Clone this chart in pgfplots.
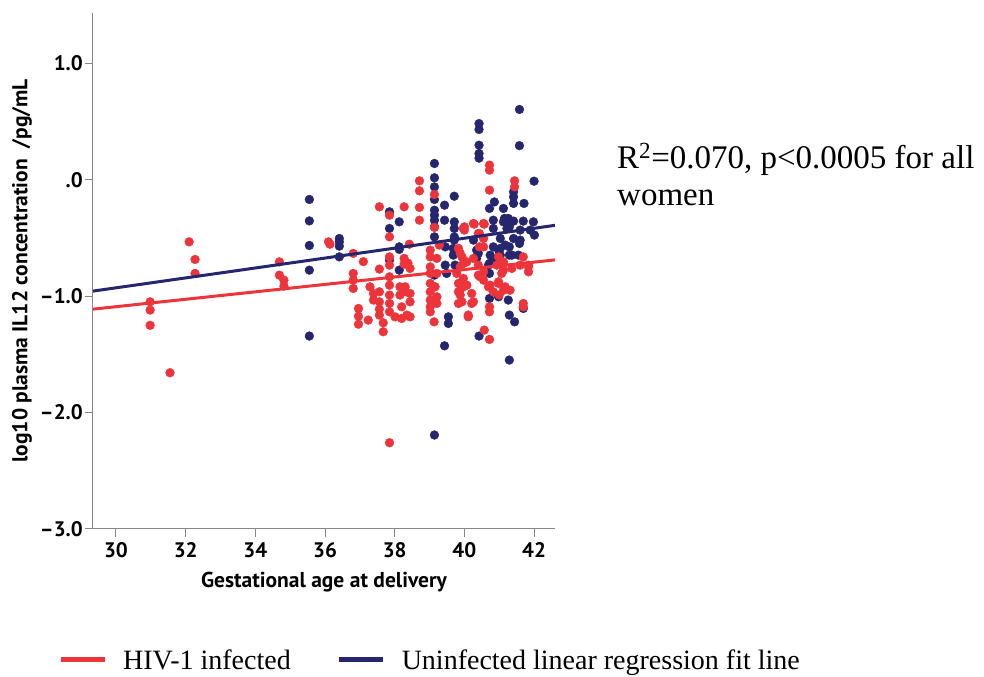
\documentclass[border=0pt]{standalone}
\usepackage{pgfplots}
\pgfplotsset{compat=1.18}
\usepackage{fontspec}
\setmainfont{Liberation Serif}
\newfontfamily\ptsans{PT Sans}
\definecolor{hivred}{RGB}{236,52,58}
\definecolor{uninfblue}{RGB}{38,38,110}
\definecolor{axgray}{RGB}{135,135,135}
\begin{document}
\begin{tikzpicture}
\begin{axis}[
  scale only axis, width=462pt, height=516.3pt,
  xmin=29.34, xmax=42.60, ymin=-3, ymax=1.434,
  clip mode=individual,
  axis lines=left, axis line style={axgray, line width=1pt, -},
  xtick={30,32,34,36,38,40,42}, xticklabels={30,32,34,36,38,40,42},
  ytick={-3,-2,-1,0,1}, yticklabels={–3.0,–2.0,–1.0,.0,1.0},
  tick align=outside, major tick length=8pt,
  tick style={axgray, line width=1pt},
  ticklabel style={font=\ptsans\bfseries\fontsize{21}{23}\selectfont, text=black, inner sep=2pt},
  xticklabel style={yshift=-3pt},
  xlabel={Gestational age at delivery},
  ylabel={log10 plasma IL12 concentration\ \ /pg/mL},
  label style={font=\ptsans\bfseries\fontsize{21.5}{23}\selectfont},
  xlabel style={at={(axis description cs:0.5,-0.1027)}, anchor=center},
  ylabel style={at={(axis description cs:-0.1537,0.5)}, anchor=center},
  legend columns=2,
  legend style={draw=none, fill=none, at={(axis description cs:-0.076,-0.2537)}, anchor=west,
    font=\fontsize{28}{30}\selectfont, inner sep=0pt,
    /tikz/every odd column/.append style={column sep=14pt},
    /tikz/every even column/.append style={column sep=44pt}},
  legend cell align=left,
  legend image code/.code={\draw[#1, line width=5pt] (0pt,0pt) -- (44pt,0pt);},
]
% uninfected (blue) points
\addplot[only marks, mark=*, mark size=4.4pt, color=uninfblue, forget plot] table {
x y
35.55 -0.170
35.55 -0.354
35.55 -0.565
35.55 -0.777
35.55 -1.343
36.41 -0.505
36.41 -0.534
36.41 -0.571
36.41 -0.663
37.85 -0.276
37.85 -0.419
38.13 -0.362
38.13 -0.577
38.13 -0.599
37.85 -0.691
38.13 -0.777
39.14 0.139
39.14 0.016
39.14 -0.062
39.14 -0.170
39.14 -0.262
39.14 -0.305
39.14 -0.348
39.14 -0.405
39.14 -0.491
39.14 -0.820
39.43 -0.219
39.43 -0.348
39.71 -0.142
39.71 -0.362
39.71 -0.419
39.71 -0.491
39.71 -0.519
39.45 -0.577
39.68 -0.590
39.68 -0.648
39.45 -0.734
39.73 -0.734
39.49 -0.805
39.54 -1.178
39.54 -1.235
39.43 -1.427
39.14 -2.193
41.58 0.603
40.42 0.482
40.42 0.431
40.42 0.296
40.42 0.225
40.42 0.185
41.58 0.292
40.72 -0.247
40.86 -0.191
41.12 -0.247
41.15 -0.333
41.29 -0.405
40.83 -0.348
40.83 -0.419
41.12 -0.362
41.26 -0.333
41.41 -0.356
41.69 -0.356
41.98 -0.362
41.22 -0.419
41.60 -0.433
41.89 -0.433
41.03 -0.505
41.41 -0.505
41.60 -0.519
40.26 -0.519
40.83 -0.577
41.03 -0.590
41.17 -0.562
41.29 -0.577
41.58 -0.548
40.40 -0.633
40.74 -0.648
40.83 -0.691
41.03 -0.648
41.36 -0.648
41.55 -0.648
40.69 -0.734
40.35 -0.605
40.35 -0.676
40.72 -0.719
40.72 -0.805
40.98 -0.605
41.29 -0.648
41.41 -0.105
41.41 -0.148
41.41 -0.204
41.71 -0.204
42.00 -0.013
42.01 -0.476
40.72 -1.020
40.98 -1.006
41.26 -1.034
41.29 -1.163
41.44 -1.221
41.29 -1.549
40.42 -1.343
41.69 -1.106
};
% HIV-1 infected (red) points
\addplot[only marks, mark=*, mark size=4.4pt, color=hivred, forget plot] table {
x y
30.98 -1.049
30.98 -1.120
30.98 -1.251
31.55 -1.658
32.10 -0.534
32.27 -0.685
32.27 -0.805
34.69 -0.706
34.69 -0.820
34.82 -0.863
34.82 -0.914
36.10 -0.534
36.14 -0.554
37.56 -0.233
37.85 -0.305
37.85 -0.491
38.27 -0.233
38.42 -0.554
38.71 -0.010
38.71 -0.096
38.71 -0.238
38.71 -0.348
39.14 -0.127
39.14 -0.410
39.28 -0.562
40.00 -0.405
40.00 -0.433
40.28 -0.382
40.57 -0.382
40.43 -0.462
40.43 -0.577
40.72 0.125
40.72 0.082
40.72 -0.090
41.44 -0.010
41.44 -0.062
36.81 -0.633
37.10 -0.704
37.56 -0.768
37.85 -0.663
38.27 -0.676
38.27 -0.725
38.38 -0.717
38.44 -0.762
36.81 -0.805
36.81 -0.863
36.81 -0.934
36.96 -1.106
36.96 -1.172
36.96 -1.241
37.24 -1.206
37.29 -0.920
37.39 -0.977
37.39 -1.034
37.56 -0.963
37.56 -1.049
37.56 -1.112
37.56 -1.163
37.67 -1.229
37.67 -1.306
37.85 -0.734
37.85 -0.834
37.85 -0.906
37.85 -0.991
37.85 -1.063
37.85 -1.135
38.01 -1.178
38.15 -0.920
38.15 -0.991
38.20 -1.092
38.20 -1.192
38.35 -1.163
38.44 -1.178
38.30 -0.920
38.30 -0.963
38.44 -0.977
38.44 -1.049
39.02 -0.605
39.02 -0.663
39.02 -0.749
39.02 -0.805
39.02 -0.891
39.02 -0.963
39.02 -1.034
39.02 -1.092
39.02 -1.135
39.16 -0.920
39.21 -1.006
39.21 -1.063
39.21 -0.676
39.21 -0.805
39.13 -1.221
39.88 -0.633
39.97 -0.719
39.83 -0.891
39.83 -0.963
39.97 -0.920
39.93 -1.049
40.26 -1.049
40.11 -1.178
39.83 -0.590
39.93 -0.663
40.07 -0.706
39.88 -0.749
40.26 -0.676
40.40 -0.734
39.78 -0.805
39.97 -0.848
40.07 -0.906
39.88 -0.949
39.88 -0.991
40.21 -0.977
40.40 -0.820
40.55 -0.863
40.69 -0.920
40.83 -0.963
40.55 -0.791
40.45 -0.834
40.74 -0.906
40.72 -1.092
40.72 -1.135
40.57 -1.292
40.72 -1.372
39.97 -0.419
40.26 -0.376
40.55 -0.376
40.40 -0.462
40.55 -0.505
40.55 -0.577
40.93 -0.734
41.12 -0.706
41.36 -0.762
41.60 -0.734
41.84 -0.749
41.07 -0.805
40.98 -0.663
41.12 -0.719
41.12 -0.777
40.98 -0.891
41.12 -0.949
41.31 -0.949
41.17 -0.920
40.98 -0.877
41.00 -0.991
41.69 -0.663
41.84 -0.734
41.84 -0.791
41.69 -1.063
41.69 -1.092
39.83 -1.063
40.21 -1.063
40.11 -1.163
37.85 -2.259
};
% regression fit lines
\addplot[hivred, line width=3pt] coordinates {(29.34,-1.112) (42.60,-0.689)};
\addlegendentry{HIV-1 infected}
\addplot[uninfblue, line width=3pt] coordinates {(29.34,-0.957) (42.60,-0.392)};
\addlegendentry{Uninfected linear regression fit line}
\node[anchor=base west, align=left, font=\fontsize{33}{37}\selectfont, inner sep=0pt]
  at (axis description cs:1.1342,0.6275) {R\textsuperscript{2}=0.070, p<0.0005 for all\\women};
\coordinate (bbsw) at (axis description cs:-0.2013,-0.2866);
\coordinate (bbne) at (axis description cs:1.9286,1.0246);
\end{axis}
\pgfresetboundingbox
\path[use as bounding box] (bbsw) rectangle (bbne);
\end{tikzpicture}
\end{document}
